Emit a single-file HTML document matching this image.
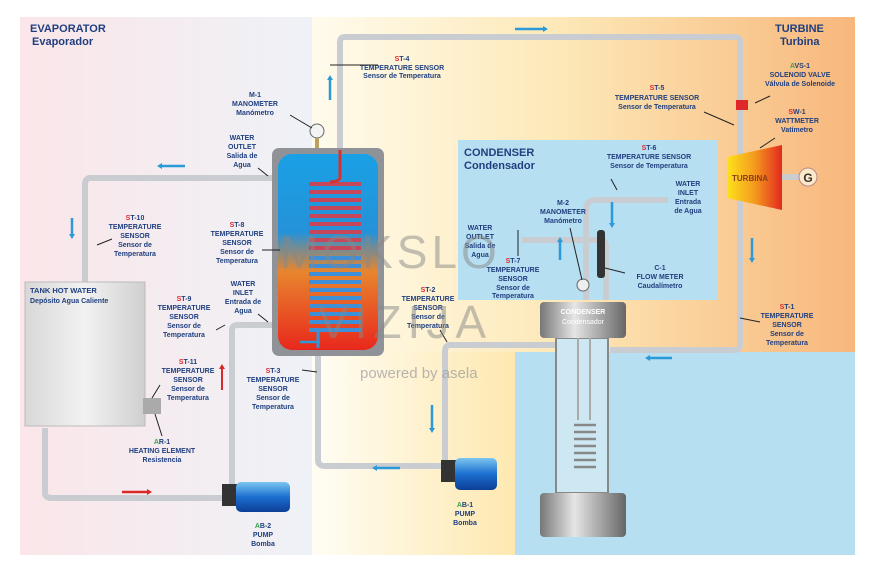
<!DOCTYPE html>
<html><head><meta charset="utf-8"><style>
html,body{margin:0;padding:0;background:#fff;}
svg{display:block;font-family:"Liberation Sans",sans-serif;}
.t{font-size:7px;font-weight:bold;fill:#1f3f7f;text-anchor:middle;}
.h{font-size:11px;font-weight:bold;fill:#1f3f7f;}
.r{fill:#e0262b;} .g{fill:#3aa54a;}
.p{fill:none;stroke:#c9cdd2;stroke-width:6;stroke-linejoin:round;}
.pi{fill:none;stroke:#f4f5f7;stroke-width:2;}
.ar{stroke:#2a9ad8;stroke-width:2.5;fill:none;}
.ld{stroke:#222;stroke-width:1;}
</style></head><body>
<svg width="876" height="566" viewBox="0 0 876 566">
<defs>
<linearGradient id="gl" x1="0" x2="1"><stop offset="0" stop-color="#fbe6e9"/><stop offset="1" stop-color="#eef2f7"/></linearGradient>
<linearGradient id="gt" x1="0" x2="1"><stop offset="0" stop-color="#fffbec"/><stop offset="0.45" stop-color="#fde9b8"/><stop offset="1" stop-color="#f7b77c"/></linearGradient>
<linearGradient id="gm" x1="0" x2="1"><stop offset="0" stop-color="#fffdf4"/><stop offset="1" stop-color="#fde8b0"/></linearGradient>
<linearGradient id="gv" x1="0" x2="0" y1="0" y2="1"><stop offset="0" stop-color="#1aa0e6"/><stop offset="0.4" stop-color="#2592d8"/><stop offset="0.6" stop-color="#e8852e"/><stop offset="1" stop-color="#e8281c"/></linearGradient>
<linearGradient id="gtu" x1="0" x2="1"><stop offset="0" stop-color="#fde21a"/><stop offset="0.5" stop-color="#f49a1e"/><stop offset="1" stop-color="#e22a1e"/></linearGradient>
<linearGradient id="gpump" x1="0" x2="0" y1="0" y2="1"><stop offset="0" stop-color="#7cc6f0"/><stop offset="0.5" stop-color="#1b6fd0"/><stop offset="1" stop-color="#0d3e96"/></linearGradient>
<linearGradient id="gcap" x1="0" x2="1"><stop offset="0" stop-color="#777"/><stop offset="0.4" stop-color="#e6e6e6"/><stop offset="1" stop-color="#666"/></linearGradient>
<linearGradient id="gtank" x1="0" x2="1"><stop offset="0" stop-color="#d8d8d8"/><stop offset="0.5" stop-color="#f2f2f2"/><stop offset="1" stop-color="#cfcfcf"/></linearGradient>
</defs>
<!-- backgrounds -->
<rect x="20" y="17" width="293" height="538" fill="url(#gl)"/>
<rect x="312" y="17" width="543" height="335" fill="url(#gt)"/>
<rect x="312" y="352" width="204" height="203" fill="url(#gm)"/>
<rect x="515" y="352" width="340" height="203" fill="#b7dff2"/>
<rect x="458" y="140" width="260" height="160" fill="#b7dff2"/>

<text x="30" y="32" class="h">EVAPORATOR</text><text x="32" y="45" class="h">Evaporador</text>
<text x="775" y="32" class="h">TURBINE</text><text x="780" y="45" class="h">Turbina</text>
<text x="464" y="156" class="h">CONDENSER</text><text x="464" y="169" class="h">Condensador</text>

<!-- pipes -->
<g class="p">
<path d="M340 150 V42 Q340 37 345 37 H735 Q740 37 740 42 V345 Q740 350 735 350 H610"/>
<path d="M555 345 H450 Q445 345 445 352 V470"/>
<path d="M272 178 H90 Q85 178 85 185 V282"/>
<path d="M45 428 V493 Q45 498 52 498 H222"/>
<path d="M232 490 V330 Q232 325 238 325 H275"/>
<path d="M318 345 V460 Q318 466 325 466 H442"/>
<path d="M522 240 H600 Q606 240 606 246 V300"/>
<path d="M586 300 V210 Q586 200 596 200 H668"/>
<path d="M782 177 H800"/>
</g>
<!-- evaporator tank -->
<rect x="272" y="148" width="112" height="208" rx="7" fill="#8f9297"/>
<rect x="278" y="154" width="100" height="196" rx="14" fill="url(#gv)"/>
<g stroke="#c8465a" stroke-width="4" fill="none">
<path d="M309 184 h52 M309 192 h52 M309 200 h52 M309 208 h52 M309 216 h52 M309 224 h52 M309 232 h52 M309 240 h52 M309 248 h52"/>
</g>
<g stroke="#3d8fd8" stroke-width="4" fill="none">
<path d="M309 258 h52 M309 266 h52 M309 274 h52 M309 282 h52 M309 290 h52 M309 298 h52 M309 306 h52 M309 314 h52 M309 322 h52 M309 330 h52"/>
</g>
<path d="M340 150 V178 Q338 182 330 182" stroke="#d83030" stroke-width="3" fill="none"/>
<path d="M318 330 V348" stroke="#3d8fd8" stroke-width="3" fill="none"/>
<circle cx="317" cy="131" r="7" fill="#f4f4f4" stroke="#666"/><rect x="315" y="138" width="4" height="10" fill="#bba060"/>
<!-- tank hot water -->
<rect x="25" y="282" width="120" height="144" fill="url(#gtank)" stroke="#bbb"/>
<rect x="143" y="398" width="18" height="16" fill="#aaa"/>
<text x="30" y="293" style="font-size:7.5px;font-weight:bold;fill:#1f3f7f">TANK HOT WATER</text>
<text x="30" y="303" style="font-size:7px;font-weight:bold;fill:#1f3f7f">Depósito Agua Caliente</text>
<!-- pumps -->
<rect x="222" y="484" width="16" height="22" fill="#333"/><rect x="236" y="482" width="54" height="30" rx="5" fill="url(#gpump)"/>
<rect x="441" y="460" width="16" height="22" fill="#333"/><rect x="455" y="458" width="42" height="32" rx="5" fill="url(#gpump)"/>
<!-- condenser vessel -->
<rect x="556" y="338" width="52" height="155" fill="#cde8f3" stroke="#888" stroke-width="2"/>
<path d="M578 338 V420 M590 338 V420" stroke="#aaa" stroke-width="2"/>
<g stroke="#888" stroke-width="2.5" fill="none"><path d="M574 425 h22 M574 432 h22 M574 439 h22 M574 446 h22 M574 453 h22 M574 460 h22 M574 467 h22"/></g>
<rect x="540" y="302" width="86" height="36" rx="4" fill="url(#gcap)"/>
<rect x="540" y="493" width="86" height="44" rx="4" fill="url(#gcap)"/>
<text x="583" y="314" class="t" style="fill:#fff">CONDENSER</text><text x="583" y="324" class="t" style="fill:#fff;font-weight:normal">Condensador</text>
<circle cx="583" cy="285" r="6" fill="#eee" stroke="#666"/>
<rect x="597" y="230" width="8" height="48" rx="3" fill="#333"/>
<!-- turbine -->
<polygon points="727,157 782,145 782,210 727,198" fill="url(#gtu)"/>
<text x="750" y="181" class="t" style="font-size:8px;fill:#8a3b1a">TURBINA</text>
<circle cx="808" cy="177" r="9" fill="#fde8c8" stroke="#b88"/><text x="808" y="182" class="t" style="font-size:12px;fill:#333">G</text>
<rect x="736" y="100" width="12" height="10" fill="#e02828"/>
<!-- arrows -->
<g class="ar"><path d="M515 29 H545"/><path d="M330 100 V78"/><path d="M185 166 H160"/><path d="M72 218 V236"/><path d="M612 202 V225"/><path d="M560 260 V240"/><path d="M752 238 V260"/><path d="M672 358 H648"/><path d="M320 342 H300"/><path d="M432 405 V430"/><path d="M400 468 H375"/></g>
<g fill="#2a9ad8"><path d="M548 29 l-5 -3 v6z"/><path d="M330 75 l-3 5 h6z"/><path d="M157 166 l5 -3 v6z"/><path d="M72 239 l-3 -5 h6z"/><path d="M612 228 l-3 -5 h6z"/><path d="M560 237 l-3 5 h6z"/><path d="M752 263 l-3 -5 h6z"/><path d="M645 358 l5 -3 v6z"/><path d="M432 433 l-3 -5 h6z"/><path d="M372 468 l5 -3 v6z"/></g>
<path d="M222 390 V368" stroke="#d82828" stroke-width="2"/><path d="M222 364 l-3 5 h6z" fill="#d82828"/>
<path d="M122 492 H148" stroke="#d82828" stroke-width="2.5"/><path d="M152 492 l-5 -3 v6z" fill="#d82828"/>

<!-- labels -->
<g class="t">
<text x="402" y="61"><tspan class="r">S</tspan>T-4</text><text x="402" y="70">TEMPERATURE SENSOR</text><text x="402" y="78">Sensor de Temperatura</text>
<text x="255" y="97">M-1</text><text x="255" y="106">MANOMETER</text><text x="255" y="115">Manómetro</text>
<text x="242" y="140">WATER</text><text x="242" y="149">OUTLET</text><text x="242" y="158">Salida de</text><text x="242" y="167">Agua</text>
<text x="135" y="220"><tspan class="r">S</tspan>T-10</text><text x="135" y="229">TEMPERATURE</text><text x="135" y="238">SENSOR</text><text x="135" y="247">Sensor de</text><text x="135" y="256">Temperatura</text>
<text x="237" y="227"><tspan class="r">S</tspan>T-8</text><text x="237" y="236">TEMPERATURE</text><text x="237" y="245">SENSOR</text><text x="237" y="254">Sensor de</text><text x="237" y="263">Temperatura</text>
<text x="243" y="286">WATER</text><text x="243" y="295">INLET</text><text x="243" y="304">Entrada de</text><text x="243" y="313">Agua</text>
<text x="184" y="301"><tspan class="r">S</tspan>T-9</text><text x="184" y="310">TEMPERATURE</text><text x="184" y="319">SENSOR</text><text x="184" y="328">Sensor de</text><text x="184" y="337">Temperatura</text>
<text x="188" y="364"><tspan class="r">S</tspan>T-11</text><text x="188" y="373">TEMPERATURE</text><text x="188" y="382">SENSOR</text><text x="188" y="391">Sensor de</text><text x="188" y="400">Temperatura</text>
<text x="162" y="444"><tspan class="g">A</tspan>R-1</text><text x="162" y="453">HEATING ELEMENT</text><text x="162" y="462">Resistencia</text>
<text x="273" y="373"><tspan class="r">S</tspan>T-3</text><text x="273" y="382">TEMPERATURE</text><text x="273" y="391">SENSOR</text><text x="273" y="400">Sensor de</text><text x="273" y="409">Temperatura</text>
<text x="263" y="528"><tspan class="g">A</tspan>B-2</text><text x="263" y="537">PUMP</text><text x="263" y="546">Bomba</text>
<text x="465" y="507"><tspan class="g">A</tspan>B-1</text><text x="465" y="516">PUMP</text><text x="465" y="525">Bomba</text>
<text x="428" y="292"><tspan class="r">S</tspan>T-2</text><text x="428" y="301">TEMPERATURE</text><text x="428" y="310">SENSOR</text><text x="428" y="319">Sensor de</text><text x="428" y="328">Temperatura</text>
<text x="480" y="230">WATER</text><text x="480" y="239">OUTLET</text><text x="480" y="248">Salida de</text><text x="480" y="257">Agua</text>
<text x="513" y="263"><tspan class="r">S</tspan>T-7</text><text x="513" y="272">TEMPERATURE</text><text x="513" y="281">SENSOR</text><text x="513" y="290">Sensor de</text><text x="513" y="298">Temperatura</text>
<text x="563" y="205">M-2</text><text x="563" y="214">MANOMETER</text><text x="563" y="223">Manómetro</text>
<text x="660" y="270">C-1</text><text x="660" y="279">FLOW METER</text><text x="660" y="288">Caudalímetro</text>
<text x="649" y="150"><tspan class="r">S</tspan>T-6</text><text x="649" y="159">TEMPERATURE SENSOR</text><text x="649" y="168">Sensor de Temperatura</text>
<text x="688" y="186">WATER</text><text x="688" y="195">INLET</text><text x="688" y="204">Entrada</text><text x="688" y="213">de Agua</text>
<text x="657" y="90"><tspan class="r">S</tspan>T-5</text><text x="657" y="100">TEMPERATURE SENSOR</text><text x="657" y="109">Sensor de Temperatura</text>
<text x="800" y="68"><tspan class="g">A</tspan>VS-1</text><text x="800" y="77">SOLENOID VALVE</text><text x="800" y="86">Válvula de Solenoide</text>
<text x="797" y="114"><tspan class="r">S</tspan>W-1</text><text x="797" y="123">WATTMETER</text><text x="797" y="132">Vatímetro</text>
<text x="787" y="309"><tspan class="r">S</tspan>T-1</text><text x="787" y="318">TEMPERATURE</text><text x="787" y="327">SENSOR</text><text x="787" y="336">Sensor de</text><text x="787" y="345">Temperatura</text>
</g>
<g class="ld"><path d="M330 65 H378"/><path d="M290 115 L312 128"/><path d="M258 168 L268 176"/><path d="M97 245 L112 239"/><path d="M262 250 H280"/><path d="M258 314 L268 322"/><path d="M225 325 L216 330"/><path d="M152 398 L160 385"/><path d="M162 436 L155 414"/><path d="M302 370 L317 372"/><path d="M440 330 L447 342"/><path d="M611 179 L617 190"/><path d="M625 273 L605 268"/><path d="M704 112 L734 125"/><path d="M755 103 L770 96"/><path d="M775 138 L760 148"/><path d="M740 318 L760 322"/><path d="M570 228 L582 280"/><path d="M518 230 V256"/></g>

<!-- watermark -->
<text x="280" y="268" style="font-size:46px;fill:#888;opacity:0.5;letter-spacing:4px">MOKSLO</text>
<text x="318" y="338" style="font-size:46px;fill:#888;opacity:0.5;letter-spacing:6px">VIZIJA</text>
<text x="360" y="378" style="font-size:15px;fill:#999;opacity:0.7">powered by asela</text>
</svg>
</body></html>
